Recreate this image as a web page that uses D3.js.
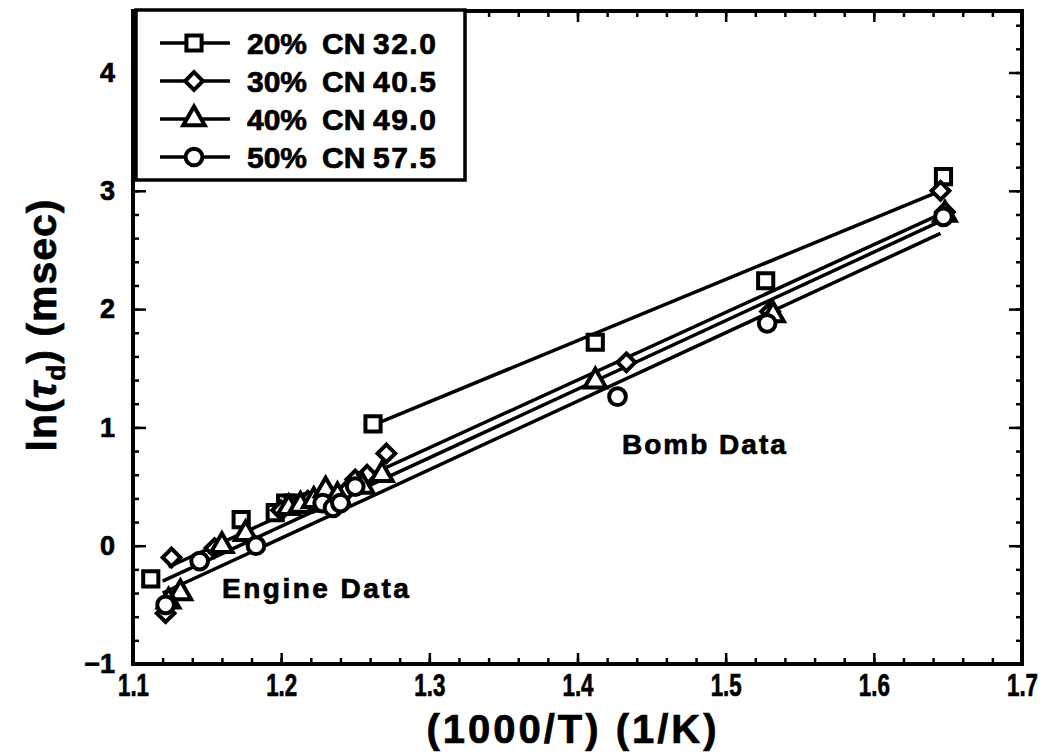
<!DOCTYPE html>
<html>
<head>
<meta charset="utf-8">
<script src="https://cdn.jsdelivr.net/npm/d3@7"></script>
<style>
  body { margin: 0; background: #fff; }
  svg text { font-family: "Liberation Sans", "DejaVu Sans", sans-serif; font-weight: bold; fill: #000; stroke: #000; stroke-width: 0.7px; }
</style>
</head>
<body>
<div id="chart"></div>
<script>
// data: [1000/T, ln(tau_d)]
var pts20 = [[1.112,-0.28],[1.173,0.22],[1.196,0.28],[1.203,0.36],[1.208,0.36],[1.214,0.35],[1.221,0.37],
             [1.226,0.36],[1.262,1.03],[1.412,1.72],[1.527,2.24],[1.647,3.12]];
var pts30 = [[1.122,-0.57],[1.126,-0.10],[1.155,-0.02],[1.200,0.30],[1.218,0.38],[1.232,0.40],[1.243,0.45],
             [1.250,0.56],[1.258,0.60],[1.271,0.78],[1.433,1.55],[1.530,1.98],[1.645,3.00],[1.648,2.82]];
var pts40 = [[1.132,-0.40],[1.124,-0.47],[1.160,0.00],[1.176,0.10],[1.205,0.32],[1.213,0.34],[1.222,0.38],
             [1.230,0.47],[1.238,0.42],[1.255,0.50],[1.268,0.60],[1.412,1.39],[1.532,1.95],[1.648,2.80]];
var pts50 = [[1.122,-0.50],[1.145,-0.13],[1.183,0.00],[1.228,0.36],[1.235,0.32],[1.240,0.36],[1.250,0.50],
             [1.427,1.26],[1.528,1.88],[1.647,2.78]];

// fitted lines, endpoints
var fit20 = [[1.262,1.02],[1.645,3.00]];
var fit30 = [[1.124,-0.18],[1.648,2.82]];
var fit40 = [[1.120,-0.30],[1.648,2.76]];
var fit50 = [[1.120,-0.40],[1.645,2.64]];

var legendLabels = [["20%","CN","32.0"],["30%","CN","40.5"],["40%","CN","49.0"],["50%","CN","57.5"]];
var xTicks = [1.1,1.2,1.3,1.4,1.5,1.6,1.7];
var yTicks = [-1,0,1,2,3,4];

var diamond = d3.symbolDiamond2 || d3.symbolDiamond;
var series = [
  {pts: pts20, fit: fit20, sym: d3.symbolSquare, size: 230},
  {pts: pts30, fit: fit30, sym: diamond, size: 200},
  {pts: pts40, fit: fit40, sym: d3.symbolTriangle, size: 200},
  {pts: pts50, fit: fit50, sym: d3.symbolCircle, size: 220}
];

var width = 1043, height = 755;
var x = d3.scaleLinear().domain([1.1, 1.7]).range([133, 1022]);
var y = d3.scaleLinear().domain([-1, 4.52]).range([664, 11]);

var svg = d3.select("#chart").append("svg")
    .attr("width", width)
    .attr("height", height);

// frame ticks, all pointing inward
function styleAxis(g) {
  g.select(".domain").remove();
  g.selectAll("line").attr("stroke", "#000").attr("stroke-width", 2.5);
}
var minorX = d3.range(1.1, 1.7001, 0.02);
var minorY = d3.range(-1, 4.52, 0.2);

svg.append("g").attr("transform", "translate(0," + y(-1) + ")")
  .call(d3.axisBottom(x).tickValues(minorX).tickSize(-6).tickFormat(""))
  .call(styleAxis);
svg.append("g").attr("transform", "translate(0," + y(-1) + ")")
  .call(d3.axisBottom(x).tickValues(xTicks).tickSize(-11).tickPadding(10).tickFormat(d3.format(".1f")))
  .call(styleAxis)
  .selectAll("text")
  .style("font-size", "31px")
  .attr("transform", "scale(0.72,1)");
svg.append("g").attr("transform", "translate(0," + y(4.52) + ")")
  .call(d3.axisTop(x).tickValues(minorX).tickSize(-6).tickFormat(""))
  .call(styleAxis);
svg.append("g").attr("transform", "translate(0," + y(4.52) + ")")
  .call(d3.axisTop(x).tickValues(xTicks).tickSize(-11).tickFormat(""))
  .call(styleAxis);

svg.append("g").attr("transform", "translate(" + x(1.1) + ",0)")
  .call(d3.axisLeft(y).tickValues(minorY).tickSize(-6).tickFormat(""))
  .call(styleAxis);
svg.append("g").attr("transform", "translate(" + x(1.1) + ",0)")
  .call(d3.axisLeft(y).tickValues(yTicks).tickSize(-13).tickPadding(18)
        .tickFormat(function(d) { return d < 0 ? "\u2212" + Math.abs(d) : d; }))
  .call(styleAxis)
  .selectAll("text").style("font-size", "27px");
svg.append("g").attr("transform", "translate(" + x(1.7) + ",0)")
  .call(d3.axisRight(y).tickValues(minorY).tickSize(-6).tickFormat(""))
  .call(styleAxis);
svg.append("g").attr("transform", "translate(" + x(1.7) + ",0)")
  .call(d3.axisRight(y).tickValues(yTicks).tickSize(-13).tickFormat(""))
  .call(styleAxis);

svg.append("rect")
  .attr("x", x(1.1)).attr("y", y(4.52))
  .attr("width", x(1.7) - x(1.1)).attr("height", y(-1) - y(4.52))
  .attr("fill", "none").attr("stroke", "#000").attr("stroke-width", 4);

// fitted lines
var line = d3.line().x(function(d) { return x(d[0]); }).y(function(d) { return y(d[1]); });
svg.selectAll(".fit")
  .data(series)
  .enter()
  .append("path")
  .attr("class", "fit")
  .attr("d", function(s) { return line(s.fit); })
  .attr("fill", "none")
  .attr("stroke", "#000")
  .attr("stroke-width", 3.5);

// markers
series.forEach(function(s) {
  var sym = d3.symbol().type(s.sym).size(s.size);
  svg.append("g").selectAll("path")
    .data(s.pts)
    .enter()
    .append("path")
    .attr("d", sym)
    .attr("transform", function(d) { return "translate(" + x(d[0]) + "," + y(d[1]) + ")"; })
    .attr("fill", "#fff")
    .attr("stroke", "#000")
    .attr("stroke-width", 4);
});

// legend
var legend = svg.append("g");
legend.append("rect")
  .attr("x", 136).attr("y", 10).attr("width", 329).attr("height", 170)
  .attr("fill", "#fff").attr("stroke", "#000").attr("stroke-width", 3.5);
legendLabels.forEach(function(lab, i) {
  var ly = 43 + i * 38;
  legend.append("line")
    .attr("x1", 160).attr("x2", 230).attr("y1", ly).attr("y2", ly)
    .attr("stroke", "#000").attr("stroke-width", 3.5);
  legend.append("path")
    .attr("d", d3.symbol().type(series[i].sym).size(series[i].size)())
    .attr("transform", "translate(194," + ly + ")")
    .attr("fill", "#fff").attr("stroke", "#000").attr("stroke-width", 4);
  legend.append("text").attr("x", 247).attr("y", ly + 11).style("font-size", "30px").text(lab[0]);
  legend.append("text").attr("x", 322).attr("y", ly + 11).style("font-size", "30px").text(lab[1]);
  legend.append("text").attr("x", 373).attr("y", ly + 11).style("font-size", "30px").style("letter-spacing", "1.5px").text(lab[2]);
});

// annotations
svg.append("text").attr("x", 222).attr("y", 598).style("font-size", "28px").style("letter-spacing", "2.5px").text("Engine Data");
svg.append("text").attr("x", 622).attr("y", 454).style("font-size", "28px").style("letter-spacing", "2px").text("Bomb Data");

// axis titles
svg.append("text")
  .attr("x", 573).attr("y", 743)
  .attr("text-anchor", "middle")
  .style("font-size", "40px")
  .style("letter-spacing", "3px")
  .text("(1000/T) (1/K)");

var yt = svg.append("text")
  .attr("transform", "translate(56,325) rotate(-90)")
  .attr("text-anchor", "middle")
  .style("font-size", "41px")
  .style("letter-spacing", "1px");
yt.append("tspan").text("ln(");
yt.append("tspan").style("font-style", "italic").text("\u03c4");
yt.append("tspan").attr("dy", 9).style("font-size", "26px").text("d");
yt.append("tspan").attr("dy", -9).text(")  (msec)");
</script>
</body>
</html>
